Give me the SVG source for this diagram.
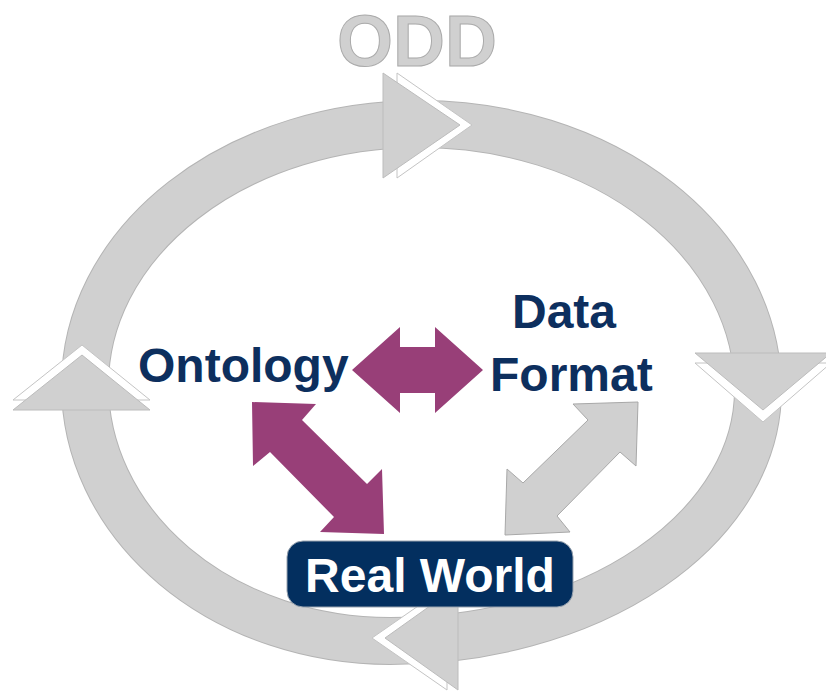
<svg xmlns="http://www.w3.org/2000/svg" width="826" height="691" viewBox="0 0 826 691">
  <style>
    .lbl { font-family: "Liberation Sans", Arial, sans-serif; font-weight: bold; font-size: 48px; fill: #0d2f5e; }
    .band-edge { fill: none; stroke: #b4b4b4; stroke-width: 48; }
    .band { fill: none; stroke: #d0d0d0; stroke-width: 46; }
    .head { fill: #d0d0d0; stroke: #bcbcbc; stroke-width: 1; }
    .halo { fill: #ffffff; stroke: #c4c4c4; stroke-width: 1; }
    .purple { fill: #983f78; }
    .grey { fill: #d0d0d0; stroke: #a8a8a8; stroke-width: 1; }
  </style>
  <rect width="826" height="691" fill="#ffffff"/>

  <g id="cycle">
    <path id="ring-edge" class="band-edge" d="M 420,124 A 338,266 0 0 1 758,390 A 368,251 0 0 1 390,641 A 305,256 0 0 1 85,385 A 335,261 0 0 1 420,124 Z"/>
    <path id="ring" class="band" d="M 420,124 A 338,266 0 0 1 758,390 A 368,251 0 0 1 390,641 A 305,256 0 0 1 85,385 A 335,261 0 0 1 420,124 Z"/>
    <!-- top arrowhead (pointing right) -->
    <polygon class="halo" points="397,73 472,125 397,178"/>
    <polygon class="head" points="383,73 460,125 383,178"/>
    <!-- right arrowhead (pointing down) -->
    <polygon class="halo" points="695,363 763,422 831,363"/>
    <polygon class="head" points="695,353 763,410 831,353"/>
    <!-- bottom arrowhead (pointing left) -->
    <polygon class="halo" points="447,586 372,638 447,690"/>
    <polygon class="head" points="458,586 385,638 458,690"/>
    <!-- left arrowhead (pointing up) -->
    <polygon class="halo" points="13,400 82,345 150,400"/>
    <polygon class="head" points="13,410 82,355 150,410"/>
  </g>

  <g id="node-odd">
    <text x="417" y="66" text-anchor="middle" font-family="Liberation Sans, Arial, sans-serif" font-weight="bold" font-size="72" fill="#d0d0d0" stroke="#aaaaaa" stroke-width="1">ODD</text>
  </g>

  <g id="connectors">
    <polygon id="arrow-ontology-dataformat" class="purple" points="352,370 400,327 400,347 435,347 435,327 483,370 435,413 435,393 400,393 400,413"/>
    <polygon id="arrow-ontology-realworld" class="purple" points="252,402 316,404 302,420 367,484 382,469 384,534 320,532 334,517 270,452 253,466"/>
    <polygon id="arrow-dataformat-realworld" class="grey" points="638,402 636,466 620,452 557,516 570,532 505,535 507,469 523,483 588,420 573,404"/>
  </g>

  <g id="node-ontology">
    <text class="lbl" x="138" y="382">Ontology</text>
  </g>

  <g id="node-dataformat">
    <text class="lbl" x="512" y="328">Data</text>
    <text class="lbl" x="490" y="391">Format</text>
  </g>

  <g id="node-realworld">
    <rect x="287" y="541" width="286" height="66" rx="16" ry="16" fill="#032f5f" stroke="#9aa4b0" stroke-width="1"/>
    <text x="430" y="592" text-anchor="middle" font-family="Liberation Sans, Arial, sans-serif" font-weight="bold" font-size="48" fill="#ffffff">Real World</text>
  </g>
</svg>
